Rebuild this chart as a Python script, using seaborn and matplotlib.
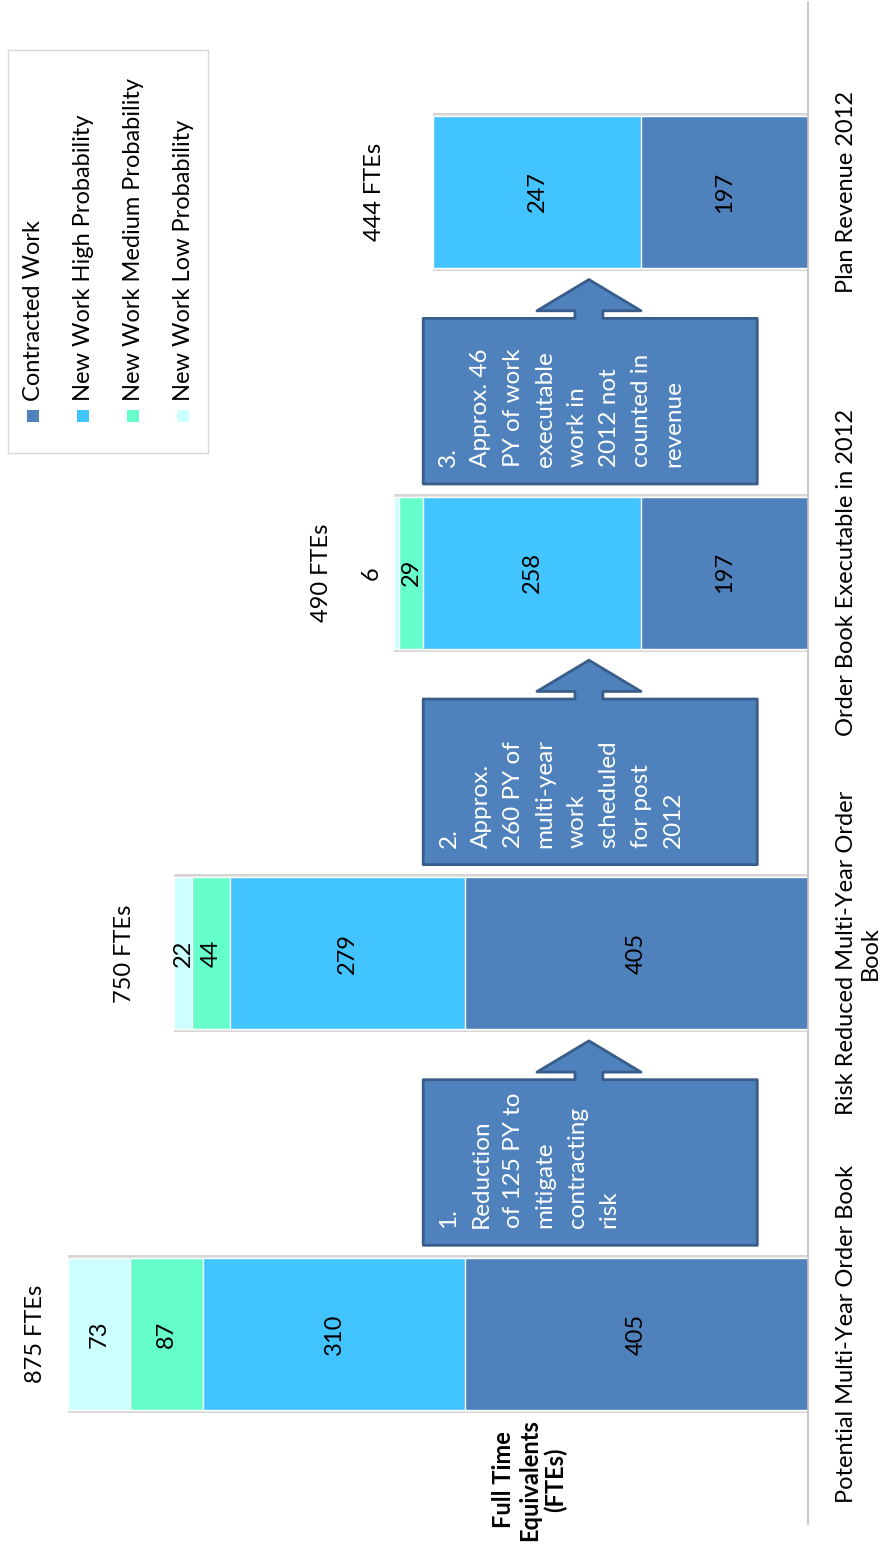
import numpy as np
import pandas as pd
import matplotlib
matplotlib.use("Agg")
import matplotlib.pyplot as plt
from matplotlib.patches import Polygon, Rectangle
import seaborn as sns

# ---- data -------------------------------------------------------------
categories = [
    "Potential Multi-Year Order Book",
    "Risk Reduced Multi-Year Order\nBook",
    "Order Book Executable in 2012",
    "Plan Revenue 2012",
]
series_names = [
    "Contracted Work",
    "New Work High Probability",
    "New Work Medium Probability",
    "New Work Low Probability",
]
contracted = [405, 405, 197, 197]
high_prob = [310, 279, 258, 247]
medium_prob = [87, 44, 29, 0]
low_prob = [73, 22, 6, 0]

callout_texts = [
    "1.\nReduction\nof 125 PY to\nmitigate\ncontracting\nrisk",
    "2.\nApprox.\n260 PY of\nmulti-year\nwork\nscheduled\nfor post\n2012",
    "3.\nApprox. 46\nPY of work\nexecutable\nwork in\n2012 not\ncounted in\nrevenue",
]
axis_title = "Full Time\nEquivalents\n(FTEs)"

# ---- styling ----------------------------------------------------------
colors = ["#4F81BD", "#41C4FF", "#66FFCC", "#CCFFFF"]
box_face = "#4F81BD"
box_edge = "#385D8A"
FS = 17

sns.set_theme(style="white")
plt.rcParams["font.family"] = ["Lato", "DejaVu Sans"]

W, H = 888, 1558
fig = plt.figure(figsize=(W / 100, H / 100), dpi=100)
fig.patch.set_facecolor("white")

# main plotting area: values run leftwards from the category axis
ax_left_px, ax_right_px = 0, 808
ax_top_px, ax_bot_px = 1.7, 1524.3
ax = fig.add_axes([ax_left_px / W, 1 - ax_bot_px / H,
                   (ax_right_px - ax_left_px) / W, (ax_bot_px - ax_top_px) / H])

series = np.array([contracted, high_prob, medium_prob, low_prob], dtype=float)
stack = np.cumsum(series, axis=0)
totals = stack[-1]

df = pd.DataFrame({"category": categories})
for k, name in enumerate(series_names):
    df[name] = stack[k]

# soft shadow behind each column
sns.barplot(data=df, x=series_names[-1], y="category", order=categories,
            orient="h", color="#D6D6D6", width=0.415, saturation=1,
            errorbar=None, linewidth=0, ax=ax)
# stacked segments, drawn from the full stack down to the base series
for k in reversed(range(len(series_names))):
    sns.barplot(data=df, x=series_names[k], y="category", order=categories,
                orient="h", color=colors[k], width=0.4, saturation=1,
                errorbar=None, edgecolor="white", linewidth=1.0, ax=ax)

ax.set_xlim(955.4, 0)
ax.set_ylim(-0.5, 3.5)
ax.set_xlabel("")
ax.set_ylabel("")
ax.set_xticks([])

# category labels sit beside the value baseline
ax.yaxis.tick_right()
ax.set_yticks(range(len(categories)))
ax.set_yticklabels(categories, rotation=90, ha="left", va="center",
                   fontsize=FS, color="#000000")
for lbl in ax.get_yticklabels():
    lbl.set_multialignment("center")
ax.tick_params(axis="y", length=0, pad=20)

for side in ["top", "bottom", "left"]:
    ax.spines[side].set_visible(False)
ax.spines["right"].set_color("#BFBFBF")
ax.spines["right"].set_linewidth(1.2)

# segment value labels
for i in range(len(categories)):
    base = 0.0
    for k in range(len(series_names)):
        v = series[k, i]
        if v > 0:
            if v >= 10:
                xpos = base + v / 2
            else:
                xpos = totals[i] + 26
            ax.text(xpos, i, f"{v:.0f}", rotation=90, ha="center", va="center",
                    fontsize=FS, color="black")
        base += v

# column totals
total_pad = [39, 58, 85, 68]
for i in range(len(categories)):
    ax.text(totals[i] + total_pad[i], i, f"{totals[i]:.0f} FTEs", rotation=90,
            ha="center", va="center", fontsize=FS, color="black")

# arrow callouts between neighbouring columns
box_v0, box_v1 = 60, 455
arrow_v = 259
stem_hw, head_hw = 16.5, 61.5
for i, txt in enumerate(callout_texts):
    p0, p1, pb, pa = i + 0.233, i + 0.668, i + 0.688, i + 0.77
    verts = [
        (box_v0, p0), (box_v1, p0), (box_v1, p1),
        (arrow_v + stem_hw, p1), (arrow_v + stem_hw, pb),
        (arrow_v + head_hw, pb), (arrow_v, pa),
        (arrow_v - head_hw, pb), (arrow_v - stem_hw, pb),
        (arrow_v - stem_hw, p1), (box_v0, p1),
    ]
    ax.add_patch(Polygon(verts, closed=True, facecolor=box_face,
                         edgecolor=box_edge, linewidth=2.0, joinstyle="round",
                         zorder=5))
    ax.text(437, i + 0.278, txt, rotation=90, ha="left", va="bottom",
            multialignment="left", fontsize=17.5, color="white",
            linespacing=1.65, zorder=6)

# value axis title
fig.text(530 / W, 1 - 1480 / H, axis_title, rotation=90, ha="center",
         va="center", multialignment="center", fontsize=17,
         fontweight="bold", color="black", linespacing=1.15)

# legend panel
lx0, lx1, ly0, ly1 = 8, 208, 50, 453
lax = fig.add_axes([lx0 / W, 1 - ly1 / H, (lx1 - lx0) / W, (ly1 - ly0) / H])
lax.set_xlim(0, 1)
lax.set_ylim(0, 1)
lax.set_xticks([])
lax.set_yticks([])
for s in lax.spines.values():
    s.set_color("#D9D9D9")
    s.set_linewidth(1.0)
sq_w = 12 / (lx1 - lx0)
sq_h = 12 / (ly1 - ly0)
for k, name in enumerate(series_names):
    xc = 0.125 + 0.25 * k
    lax.add_patch(Rectangle((xc - sq_w / 2, 0.0918 - sq_h / 2), sq_w, sq_h,
                            facecolor=colors[k], edgecolor="none"))
    lax.text(xc, 0.13, name, rotation=90, ha="center", va="bottom",
             fontsize=FS, color="black")

fig.savefig("out.png", dpi=100)
